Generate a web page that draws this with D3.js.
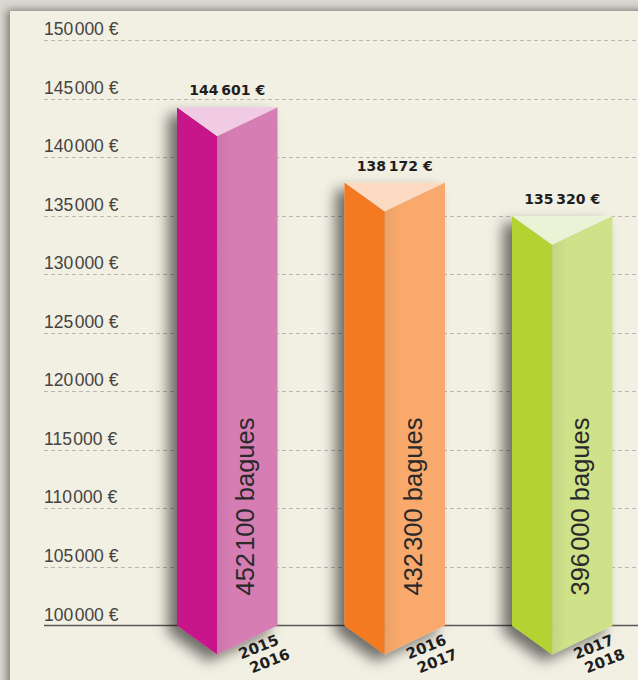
<!DOCTYPE html>
<html>
<head>
<meta charset="utf-8">
<script src="https://cdn.jsdelivr.net/npm/d3@7"></script>
<style>
  body { margin: 0; background: #d9d9d1; }
  svg { display: block; }
</style>
</head>
<body>
<div id="chart"></div>
<script>
// data
var seasons = ["2015-2016", "2016-2017", "2017-2018"];
var amounts = [144601, 138172, 135320];
var rings = [452100, 432300, 396000];
var yTicks = [100000, 105000, 110000, 115000, 120000, 125000, 130000, 135000, 140000, 145000, 150000];

// colours: dark face, light face, top
var faceDark = ["#c7168a", "#f47a22", "#b4d333"];
var faceLight = ["#d67db4", "#f9a96c", "#cfe189"];
var faceTop = ["#f0cbe3", "#fddbc3", "#ebf2d5"];

var width = 638, height = 680;

var svg = d3.select("#chart")
  .append("svg")
    .attr("width", width)
    .attr("height", height);

var defs = svg.append("defs");

defs.append("filter")
    .attr("id", "panelShadow")
    .attr("x", "-10%").attr("y", "-10%")
    .attr("width", "130%").attr("height", "130%")
  .append("feDropShadow")
    .attr("dx", -3).attr("dy", -1)
    .attr("stdDeviation", 4)
    .attr("flood-color", "#000")
    .attr("flood-opacity", 0.45);

defs.append("filter")
    .attr("id", "barShadow")
    .attr("x", "-50%").attr("y", "-20%")
    .attr("width", "200%").attr("height", "150%")
  .append("feDropShadow")
    .attr("dx", -9).attr("dy", 7)
    .attr("stdDeviation", 7)
    .attr("flood-color", "#000")
    .attr("flood-opacity", 0.55);

// soft shading on the light face, darker near the fold
faceLight.forEach(function(c, i) {
  var g = defs.append("linearGradient")
      .attr("id", "light" + i)
      .attr("x1", "0%").attr("x2", "100%");
  g.append("stop").attr("offset", "0%").attr("stop-color", d3.color(c).darker(0.15));
  g.append("stop").attr("offset", "25%").attr("stop-color", c);
  g.append("stop").attr("offset", "100%").attr("stop-color", c);
});

// background panel
svg.append("rect")
    .attr("x", 10).attr("y", 11)
    .attr("width", width + 20).attr("height", height + 20)
    .attr("fill", "#f2efe3")
    .attr("filter", "url(#panelShadow)");

// french number formats (narrow gap between groups)
var num = d3.formatLocale({decimal: ",", thousands: "\u2009", grouping: [3], currency: ["", ""]}).format(",d");
var numTight = d3.formatLocale({decimal: ",", thousands: "\u200a", grouping: [3], currency: ["", ""]}).format(",d");

// Y scale
var y = d3.scaleLinear()
    .domain([100000, 150000])
    .range([625.5, 40]);

// X scale
var x = d3.scaleBand()
    .domain(seasons)
    .range([143.5, 646])
    .paddingInner(0.4)
    .paddingOuter(0.2);

// grid lines + tick labels
var grid = svg.append("g");
grid.selectAll("line")
  .data(yTicks.filter(function(d) { return d > 100000; }))
  .enter()
  .append("line")
    .attr("x1", 44).attr("x2", width)
    .attr("y1", function(d) { return Math.round(y(d)) + 0.5; })
    .attr("y2", function(d) { return Math.round(y(d)) + 0.5; })
    .attr("stroke", "#b9b7b3")
    .attr("stroke-dasharray", "4,3");

grid.append("line")
    .attr("x1", 44).attr("x2", width)
    .attr("y1", y(100000)).attr("y2", y(100000))
    .attr("stroke", "#5a5853")
    .attr("stroke-width", 1.5);

grid.selectAll("text")
  .data(yTicks)
  .enter()
  .append("text")
    .attr("x", 44)
    .attr("y", function(d) { return y(d) - 5; })
    .attr("font-family", "Liberation Sans, Arial, sans-serif")
    .attr("font-size", 17.5)
    .attr("fill", "#454341")
    .text(function(d) { return numTight(d) + " €"; });

// 3D bars (folded prism: dark face | light face, V shaped top and bottom)
var fold = 29, dTop = 4;
var bars = svg.append("g").selectAll("g")
  .data(seasons)
  .enter()
  .append("g");

bars.each(function(s, i) {
  var g = d3.select(this);
  var x0 = x(s), x1 = x(s) + x.bandwidth(), xm = x0 + x.bandwidth() * 0.4;
  var top = y(amounts[i]) + dTop, base = y(100000);

  var shape = g.append("g").attr("filter", "url(#barShadow)");
  shape.append("path")
      .attr("d", "M" + x0 + "," + top + "L" + xm + "," + (top + fold) + "L" + xm + "," + (base + fold) + "L" + x0 + "," + base + "Z")
      .attr("fill", faceDark[i]);
  shape.append("path")
      .attr("d", "M" + xm + "," + (top + fold) + "L" + x1 + "," + top + "L" + x1 + "," + base + "L" + xm + "," + (base + fold) + "Z")
      .attr("fill", "url(#light" + i + ")");
  shape.append("path")
      .attr("d", "M" + x0 + "," + top + "L" + x1 + "," + top + "L" + xm + "," + (top + fold) + "Z")
      .attr("fill", faceTop[i]);

  // value on top
  g.append("text")
      .attr("x", x0 + x.bandwidth() / 2)
      .attr("y", top - 12)
      .attr("text-anchor", "middle")
      .attr("font-family", "DejaVu Sans, sans-serif")
      .attr("font-weight", "bold")
      .attr("font-size", 14)
      .attr("fill", "#1e1e1e")
      .text(num(amounts[i]) + " €");

  // ring count, vertical in the light face
  g.append("text")
      .attr("transform", "translate(" + (xm + 37) + "," + (base - 30) + ") rotate(-90)")
      .attr("font-family", "Liberation Sans, Arial, sans-serif")
      .attr("font-size", 25.5)
      .attr("fill", "#2a2a2a")
      .text(numTight(rings[i]) + " bagues");

  // season label under the bar
  var parts = s.split("-");
  var lab = g.append("text")
      .attr("transform", "translate(" + (xm + 24) + "," + (base + 34) + ") rotate(-22)")
      .attr("font-family", "DejaVu Sans, sans-serif")
      .attr("font-weight", "bold")
      .attr("font-size", 15)
      .attr("fill", "#1e1e1e");
  lab.append("tspan").attr("x", 0).attr("dy", 0).text(parts[0]);
  lab.append("tspan").attr("x", 5).attr("dy", "1.15em").text(parts[1]);
});
</script>
</body>
</html>
